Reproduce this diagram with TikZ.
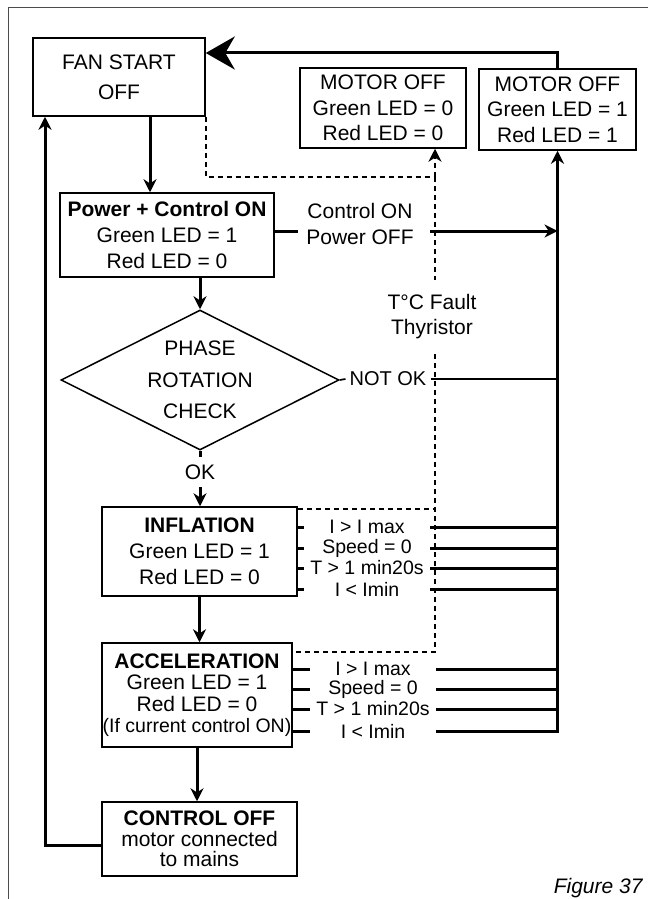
\documentclass[tikz,border=0pt]{standalone}
\usepackage{fontspec}
\setmainfont{Liberation Sans}
\usetikzlibrary{positioning, arrows.meta, calc, shapes.geometric}
\newcommand{\fsz}[2]{\fontsize{#1}{#2}\selectfont}
\tikzset{
  stbox/.style={draw, line width=1.5pt, align=center, inner sep=0pt},
  flow/.style={-{Stealth[length=13pt,width=13pt]}, line width=3pt},
  bigflow/.style={-{Stealth[length=29pt,width=33pt]}, line width=3pt},
  bar/.style={line width=3pt},
  thinbar/.style={line width=1.7pt},
  dsh/.style={line width=2pt, dash pattern=on 5pt off 4pt},
  cond/.style={minimum width=126pt, inner sep=0pt, font=\fsz{19.5}{22}}
}

\begin{document}
\begin{tikzpicture}[x=1pt, y=-1pt]
        \useasboundingbox (0,0) rectangle (648,899);
        \draw[line width=0.9pt, black!70] (648,7) -- (8,7) -- (8,899);
        \node[stbox, minimum width=172pt, minimum height=78pt, font=\fsz{21}{30}] (fan) at (119,77) {FAN START\\OFF};
        \node[stbox, minimum width=166pt, minimum height=80pt, font=\fsz{21}{25.5}] (moff0) at (383,108) {MOTOR OFF\\Green LED = 0\\Red LED = 0};
        \node[stbox, minimum width=157pt, minimum height=81pt, font=\fsz{21}{25.5}] (moff1) at (557.5,109.5) {MOTOR OFF\\Green LED = 1\\Red LED = 1};
        \node[stbox, minimum width=214pt, minimum height=84pt, font=\fsz{21}{26}] (power) at (167,235) {\textbf{Power + Control ON}\\Green LED = 1\\Red LED = 0};
        \node[stbox, shape=diamond, aspect=2, minimum width=278pt, minimum height=140pt, font=\fsz{21}{31.5}] (phase) at (200,380) {PHASE\\ROTATION\\CHECK};
        \node[inner sep=0pt, minimum height=30pt, font=\fsz{21}{25}] (ok) at (200,472) {OK};
        \node[stbox, minimum width=195pt, minimum height=89pt, font=\fsz{21}{26}] (infl) at (199.5,551.5) {\textbf{INFLATION}\\Green LED = 1\\Red LED = 0};
        \node[stbox, minimum width=190pt, minimum height=104pt, font=\fsz{21}{21.5}] (accel) at (197,695) {\textbf{ACCELERATION}\\Green LED = 1\\Red LED = 0\\{\fsz{19.5}{21.5}(If current control ON)}};
        \node[stbox, minimum width=195pt, minimum height=74pt, font=\fsz{21}{20.5}] (ctrloff) at (199.5,839) {\textbf{CONTROL OFF}\\motor connected\\to mains};
        \node[align=center, font=\fsz{21}{26}] (cpo) at (360,224) {Control ON\\Power OFF};
        \node[align=center, inner ysep=15pt, font=\fsz{21}{25}] (tcf) at (432,317) {T°C Fault\\Thyristor};
        \node[inner xsep=4pt, inner ysep=0pt, font=\fsz{20}{24}] (nok) at (388,379) {NOT OK};
        \node[cond] (i1) at (367,527) {I > I max};
        \node[cond] (i2) at (367,548) {Speed = 0};
        \node[cond] (i3) at (367,568) {T > 1 min20s};
        \node[cond] (i4) at (367,589) {I < Imin};
        \node[cond] (a1) at (373,669) {I > I max};
        \node[cond] (a2) at (373,689) {Speed = 0};
        \node[cond] (a3) at (373,709) {T > 1 min20s};
        \node[cond] (a4) at (373,731) {I < Imin};
        \node[anchor=east, font=\fsz{21}{25}\itshape] (fig) at (646,888) {Figure 37};
        \coordinate (dj) at (435,177);
        \coordinate (cpoL) at (298,231);
        \coordinate (cpoR) at (430,231);
        \coordinate (back) at (45,845);
        \coordinate (idash) at ([yshift=-3pt]infl.north east);
        \coordinate (adash) at ([yshift=-10pt]accel.north east);
        \draw[bigflow] (moff1.north) |- ([yshift=24pt]fan.east);
        \draw[flow] ([xshift=31pt]fan.south) -- ([xshift=31pt]fan.south |- power.north);
        \draw[bar] (power.east |- cpoL) -- (cpoL);
        \draw[flow] (cpoR) -- (moff1.south |- cpoR);
        \draw[flow] (power.south -| phase.north) -- (phase.north);
        \draw[thinbar] (phase.east) -- (nok.west);
        \draw[thinbar] (nok.east) -- (moff1.south |- nok);
        \draw[bar] (phase.south) -- (ok.north);
        \draw[flow] (ok.south) -- (ok.south |- infl.north);
        \draw[flow] (infl.south) -- (infl.south |- accel.north);
        \draw[flow] (accel.south) -- (accel.south |- ctrloff.north);
        \draw[flow] ([yshift=-6pt]ctrloff.west) -| (back |- fan.south);
        \draw[bar] (infl.east |- i1) -- (i1.west);
        \draw[bar] (infl.east |- i2) -- (i2.west);
        \draw[bar] (infl.east |- i3) -- (i3.west);
        \draw[bar] (infl.east |- i4) -- (i4.west);
        \draw[bar] (i1.east) -- (moff1.south |- i1);
        \draw[bar] (i2.east) -- (moff1.south |- i2);
        \draw[bar] (i3.east) -- (moff1.south |- i3);
        \draw[bar] (i4.east) -- (moff1.south |- i4);
        \draw[bar] (accel.east |- a1) -- (a1.west);
        \draw[bar] (accel.east |- a2) -- (a2.west);
        \draw[bar] (accel.east |- a3) -- (a3.west);
        \draw[bar] (accel.east |- a4) -- (a4.west);
        \draw[bar] (a1.east) -- (moff1.south |- a1);
        \draw[bar] (a2.east) -- (moff1.south |- a2);
        \draw[bar] (a3.east) -- (moff1.south |- a3);
        \draw[flow] (a4.east) -| (moff1.south);
        \draw[dsh] (fan.south east) |- (dj);
        \draw[dsh, -{Stealth[length=13pt,width=13pt]}] (dj) -- (dj |- moff0.south);
        \draw[dsh] (dj) -- (dj |- tcf.north);
        \draw[dsh] (dj |- tcf.south) |- (adash);
        \draw[dsh] (idash) -- (dj |- idash);
      \end{tikzpicture}
\end{document}
